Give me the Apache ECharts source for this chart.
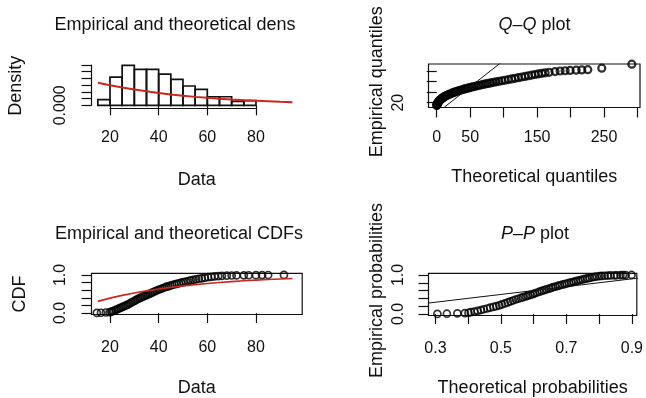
<!DOCTYPE html>
<html>
<head>
<meta charset="utf-8">
<title>Empirical and theoretical distribution plots</title>
<script src="https://cdn.jsdelivr.net/npm/echarts@6/dist/echarts.min.js"></script>
<style>
html, body { margin: 0; padding: 0; background: #fff; }
#chart { width: 646px; height: 398px; }
</style>
</head>
<body>
<div id="chart"></div>
<script>
// histogram (density scale)
var histBreaks = [15, 20, 25, 30, 35, 40, 45, 50, 55, 60, 65, 70, 75, 80];
var histDensity = [0.0042, 0.0210, 0.0298, 0.0268, 0.0268, 0.0232, 0.0193, 0.0144, 0.0119, 0.0064, 0.0064, 0.0030, 0.0035];

// fitted curve
var curveX = [15, 20, 25, 30, 35, 40, 45, 50, 55, 60, 65, 70, 75, 80, 85, 90, 95];
var curveDensity = [0.0168, 0.0150, 0.0133, 0.0118, 0.0104, 0.0092, 0.0081, 0.0072, 0.0063, 0.0056, 0.0049, 0.0043, 0.0038, 0.0034, 0.0030, 0.0026, 0.0023];
var curveCdf = [0.305, 0.390, 0.462, 0.526, 0.581, 0.630, 0.673, 0.711, 0.745, 0.775, 0.801, 0.824, 0.845, 0.863, 0.879, 0.893, 0.905];

// empirical cdf points
var ecdfX = [14.6, 16.3, 18.3, 19.8, 20.5, 21.0, 21.7, 22.4, 23.1, 23.8, 24.5, 25.2, 25.9, 26.6,
  27.3, 28.0, 28.7, 29.4, 30.1, 30.8, 31.5, 32.2, 32.9, 33.6, 34.3, 35.0, 35.7, 36.4, 37.1, 37.8,
  38.5, 39.2, 40.0, 40.8, 41.6, 42.4, 43.2, 44.0, 44.8, 45.6, 46.5, 47.4, 48.3, 49.2, 50.2, 51.2,
  52.2, 53.2, 54.3, 55.4, 56.5, 57.7, 59.0, 60.3, 61.6, 63.0, 64.5, 66.0, 68.0, 70.0, 72.0, 75.0,
  77.0, 80.0, 82.5, 85.0, 91.5];
var ecdfP = [0.001, 0.006, 0.013, 0.02, 0.03, 0.045, 0.06, 0.08, 0.10, 0.12, 0.14, 0.16, 0.18, 0.20,
  0.22, 0.245, 0.27, 0.295, 0.32, 0.345, 0.37, 0.39, 0.41, 0.43, 0.45, 0.47, 0.49, 0.51, 0.53, 0.55,
  0.57, 0.59, 0.61, 0.63, 0.65, 0.67, 0.69, 0.70, 0.72, 0.735, 0.75, 0.765, 0.78, 0.795, 0.81, 0.825,
  0.84, 0.855, 0.87, 0.885, 0.90, 0.91, 0.925, 0.94, 0.95, 0.96, 0.97, 0.975, 0.98, 0.985, 0.988, 0.99,
  0.992, 0.994, 0.996, 0.998, 1.0];

// P-P plot: theoretical probabilities (y uses ecdfP)
var ppTheo = [0.306, 0.335, 0.367, 0.390, 0.401, 0.408, 0.419, 0.429, 0.439, 0.448, 0.458, 0.467, 0.477, 0.486,
  0.495, 0.503, 0.512, 0.521, 0.529, 0.537, 0.545, 0.553, 0.561, 0.568, 0.576, 0.583, 0.590, 0.598, 0.604, 0.611,
  0.618, 0.625, 0.632, 0.639, 0.647, 0.654, 0.660, 0.667, 0.674, 0.680, 0.687, 0.694, 0.701, 0.708, 0.715, 0.722,
  0.729, 0.736, 0.743, 0.750, 0.757, 0.764, 0.771, 0.779, 0.786, 0.793, 0.801, 0.808, 0.817, 0.826, 0.835, 0.847,
  0.854, 0.865, 0.873, 0.881, 0.899];

// Q-Q plot
var qqTheo = [0, 0.3, 0.6, 0.9, 1.2, 1.6, 2.0, 2.6, 3.2, 3.9, 4.6, 5.4, 6.3, 7.2, 8.2, 9.3, 10.5, 11.8, 13.2, 14.7,
  16.3, 18, 19.8, 21.7, 23.7, 25.8, 28, 30.3, 32.7, 35.2, 37.8, 40.5, 43.3, 46.2, 49.2, 52.3, 55.5, 58.8, 62.2, 65.7,
  69.3, 73, 76.8, 80.7, 84.7, 88.8, 93, 97.5, 102, 107, 112, 117, 122, 127, 132, 137, 142, 147, 152, 157,
  162, 168, 176.8, 184.3, 191.8, 199.3, 208.3, 216.7, 225.7, 246.6, 291.5];
var qqEmp = [14.5, 15.5, 16.5, 17.5, 18.5, 19.5, 20.5, 21.5, 22.5, 23.5, 24.5, 25.5, 26.5, 27.5, 28.5, 29.5, 30.5, 31.5, 32.5, 33.5,
  34.5, 35.5, 36.5, 37.5, 38.5, 39.5, 40.5, 41.5, 42.5, 43.5, 44.5, 45.5, 46.5, 47.5, 48.5, 49.5, 50.5, 51.5, 52.5, 53.5,
  54.5, 55.5, 56.5, 57.5, 58.5, 59.5, 60.5, 61.5, 62.5, 63.8, 65, 66.2, 67.4, 68.6, 69.8, 71, 72.2, 73.4, 74.6, 75.6,
  76.5, 77.5, 79, 80, 80.5, 81, 81.5, 82, 82.5, 85.3, 92.9];

// y = x reference lines
var qqLine = [[-20, -20], [320, 320]];
var ppLine = [[0, 0], [1, 1]];

// ticks
var dataTicks = [20, 40, 60, 80];
var densTicks = [0, 0.005, 0.01, 0.015, 0.02, 0.025, 0.03];
var densLabels = [0];
var qqXTicks = [0, 50, 100, 150, 200, 250, 300];
var qqXLabels = [0, 50, 150, 250];
var qqYTicks = [20, 40, 60, 80];
var qqYLabels = [20];
var probTicks = [0, 0.2, 0.4, 0.6, 0.8, 1];
var probLabels = [0, 1];
var ppXTicks = [0.3, 0.4, 0.5, 0.6, 0.7, 0.8, 0.9];
var ppXLabels = [0.3, 0.5, 0.7, 0.9];

var FONT = '"Liberation Sans", Arial, sans-serif';
var INK = '#111';
var RED = '#c8281e';

function pairs(a, b) {
    return a.map(function (v, i) { return [v, b[i]]; });
}

function axis(grid, min, max, ticks, labels, o) {
    return {
        type: 'value', gridIndex: grid, min: min, max: max,
        axisLine: { show: false },
        splitLine: { show: false },
        axisTick: { show: true, inside: false, length: 10, customValues: ticks, lineStyle: { color: INK, width: 1.2 } },
        axisLabel: {
            customValues: labels, margin: o.margin, rotate: o.rotate || 0,
            fontSize: 16, fontFamily: FONT, color: INK,
            formatter: o.fmt || function (v) { return String(v); }
        },
        name: o.name, nameLocation: 'middle', nameGap: o.gap,
        nameTextStyle: { fontSize: 18, fontFamily: FONT, color: INK, padding: o.namePad || 0 }
    };
}

function hidden(grid, min, max, line) {
    return {
        type: 'value', gridIndex: grid, min: min, max: max,
        axisLine: { show: !!line, lineStyle: { color: INK, width: 1.2 } },
        axisTick: { show: false }, axisLabel: { show: false }, splitLine: { show: false }
    };
}

var box = { show: true, borderColor: INK, borderWidth: 1.2, backgroundColor: 'transparent' };
var dot = { color: 'transparent', borderColor: '#000', borderWidth: 1.7 };
var qqDot = { color: 'transparent', borderColor: '#000', borderWidth: 2.2 };

var option = {
    animation: false,
    backgroundColor: '#fff',
    grid: [
        { left: 91.5, top: 63.4, width: 210.7, height: 44.9 },
        Object.assign({ left: 428.5, top: 64, width: 211.5, height: 43.5 }, box),
        Object.assign({ left: 91.5, top: 273.4, width: 210.7, height: 42.1 }, box),
        Object.assign({ left: 428.5, top: 273.4, width: 210.5, height: 42.1 }, box),
        // R style axis lines of the histogram, first to last tick
        { left: 110, top: 63.4, width: 146, height: 44.9 },
        { left: 91.5, top: 65.0, width: 210.7, height: 40.3 }
    ],
    xAxis: [
        axis(0, 12.4, 99, dataTicks, dataTicks, { margin: 21, name: 'Data', gap: 63 }),
        axis(1, -12.25, 303.7, qqXTicks, qqXLabels, { margin: 22, name: 'Theoretical quantiles', gap: 60.5 }),
        axis(2, 12.4, 99, dataTicks, dataTicks, { margin: 25, name: 'Data', gap: 64.5 }),
        axis(3, 0.2789, 0.9151, ppXTicks, ppXLabels, {
            margin: 25, name: 'Theoretical probabilities', gap: 63.5,
            fmt: function (v) { return v.toFixed(1); }
        }),
        hidden(4, 20, 80, true),
        hidden(5, 0, 1, false)
    ],
    yAxis: [
        axis(0, -0.0022, 0.0312, densTicks, densLabels, {
            margin: 23, rotate: 90, name: 'Density', gap: 66,
            fmt: function (v) { return v.toFixed(3); }
        }),
        axis(1, 10.9, 93.25, qqYTicks, qqYLabels, {
            margin: 22, rotate: 90, name: 'Empirical quantiles', gap: 42, namePad: [0, 0, 0, 8]
        }),
        axis(2, -0.04, 1.04, probTicks, probLabels, {
            margin: 23, rotate: 90, name: 'CDF', gap: 62,
            fmt: function (v) { return v.toFixed(1); }
        }),
        axis(3, -0.04, 1.04, probTicks, probLabels, {
            margin: 22, rotate: 90, name: 'Empirical probabilities', gap: 42, namePad: [0, 0, 0, 8],
            fmt: function (v) { return v.toFixed(1); }
        }),
        hidden(4, 0, 1, false),
        hidden(5, 0, 0.03, true)
    ],
    graphic: [
        { type: 'text', x: 175, y: 25, style: { text: 'Empirical and theoretical dens', fontSize: 18, fontFamily: FONT, fill: INK, align: 'center', verticalAlign: 'middle' } },
        { type: 'text', x: 179, y: 234, style: { text: 'Empirical and theoretical CDFs', fontSize: 18, fontFamily: FONT, fill: INK, align: 'center', verticalAlign: 'middle' } },
        { type: 'text', x: 534.5, y: 25, style: {
            text: '{i|Q}–{i|Q} plot', fontSize: 18, fontFamily: FONT, fill: INK, align: 'center', verticalAlign: 'middle',
            rich: { i: { fontStyle: 'italic', fontSize: 18, fontFamily: FONT, fill: INK } } } },
        { type: 'text', x: 535, y: 234, style: {
            text: '{i|P}–{i|P} plot', fontSize: 18, fontFamily: FONT, fill: INK, align: 'center', verticalAlign: 'middle',
            rich: { i: { fontStyle: 'italic', fontSize: 18, fontFamily: FONT, fill: INK } } } }
    ],
    series: [
        {
            type: 'custom', xAxisIndex: 0, yAxisIndex: 0,
            data: histDensity.map(function (d, i) { return [histBreaks[i], histBreaks[i + 1], d]; }),
            encode: { x: [0, 1], y: 2 },
            renderItem: function (params, api) {
                var p0 = api.coord([api.value(0), api.value(2)]);
                var p1 = api.coord([api.value(1), 0]);
                return {
                    type: 'rect',
                    shape: { x: p0[0], y: p0[1], width: p1[0] - p0[0], height: p1[1] - p0[1] },
                    style: { fill: 'none', stroke: '#111', lineWidth: 1.7 }
                };
            }
        },
        {
            type: 'line', xAxisIndex: 0, yAxisIndex: 0, data: pairs(curveX, curveDensity),
            showSymbol: false, lineStyle: { color: RED, width: 2 }
        },
        {
            type: 'scatter', xAxisIndex: 1, yAxisIndex: 1, data: pairs(qqTheo, qqEmp),
            symbol: 'circle', symbolSize: 7, itemStyle: qqDot
        },
        {
            type: 'line', xAxisIndex: 1, yAxisIndex: 1, data: qqLine,
            showSymbol: false, lineStyle: { color: INK, width: 1 }
        },
        {
            type: 'scatter', xAxisIndex: 2, yAxisIndex: 2, data: pairs(ecdfX, ecdfP),
            symbol: 'circle', symbolSize: 7, itemStyle: dot
        },
        {
            type: 'line', xAxisIndex: 2, yAxisIndex: 2, data: pairs(curveX, curveCdf),
            showSymbol: false, lineStyle: { color: RED, width: 1.6 }
        },
        {
            type: 'scatter', xAxisIndex: 3, yAxisIndex: 3, data: pairs(ppTheo, ecdfP),
            symbol: 'circle', symbolSize: 7, itemStyle: dot
        },
        {
            type: 'line', xAxisIndex: 3, yAxisIndex: 3, data: ppLine,
            showSymbol: false, lineStyle: { color: INK, width: 1 }
        }
    ]
};

var myChart = echarts.init(document.getElementById('chart'));
myChart.setOption(option);
</script>
</body>
</html>
